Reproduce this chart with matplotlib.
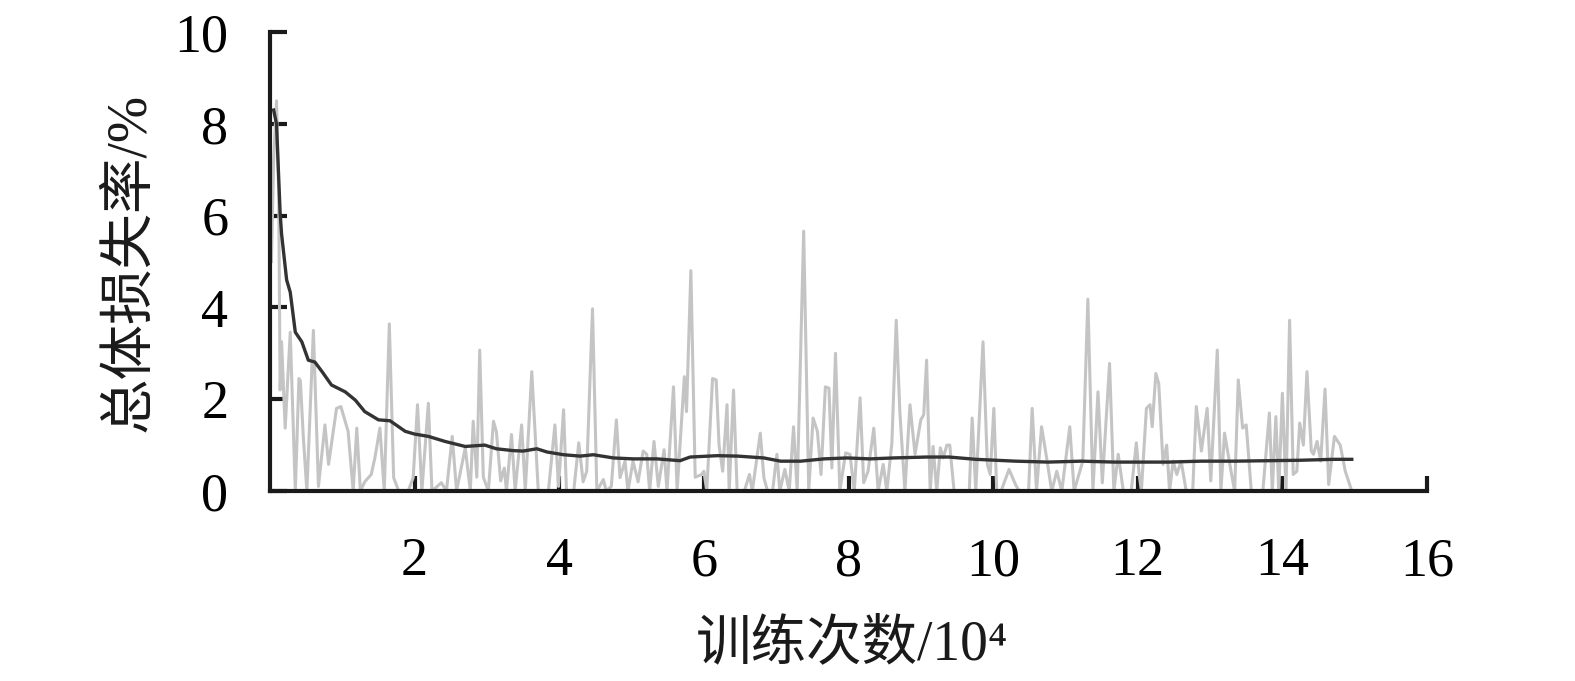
import matplotlib.pyplot as plt

# 原始损失 (灰线) - 折线顶点
raw_x = [0.02, 0.05, 0.09, 0.12, 0.14, 0.16, 0.21, 0.28, 0.35, 0.40, 0.42, 0.46, 0.51, 0.60, 0.67,
         0.76, 0.81, 0.92, 0.98, 1.08, 1.15, 1.20, 1.25, 1.31, 1.40, 1.45, 1.52, 1.58, 1.65, 1.71,
         1.78, 1.91, 1.98, 2.04, 2.10, 2.19, 2.24, 2.37, 2.44, 2.52, 2.58, 2.70, 2.77, 2.81, 2.86,
         2.90, 2.95, 3.02, 3.09, 3.13, 3.19, 3.24, 3.27, 3.34, 3.39, 3.48, 3.53, 3.62, 3.71, 3.85,
         3.94, 3.99, 4.06, 4.10, 4.20, 4.27, 4.33, 4.38, 4.46, 4.52, 4.61, 4.65, 4.72, 4.79, 4.84,
         4.91, 4.95, 5.02, 5.09, 5.16, 5.21, 5.25, 5.31, 5.37, 5.45, 5.49, 5.58, 5.63, 5.73, 5.76,
         5.82, 5.88, 5.97, 6.00, 6.04, 6.12, 6.17, 6.21, 6.26, 6.32, 6.35, 6.41, 6.46, 6.56, 6.63,
         6.67, 6.78, 6.83, 6.88, 6.95, 7.01, 7.05, 7.12, 7.18, 7.24, 7.29, 7.38, 7.45, 7.51, 7.57,
         7.62, 7.68, 7.73, 7.77, 7.82, 7.88, 7.96, 8.02, 8.08, 8.16, 8.21, 8.27, 8.35, 8.41, 8.48,
         8.53, 8.60, 8.66, 8.71, 8.78, 8.85, 8.92, 9.00, 9.04, 9.08, 9.13, 9.17, 9.22, 9.27, 9.31,
         9.36, 9.40, 9.46, 9.67, 9.71, 9.76, 9.86, 9.92, 9.96, 10.01, 10.05, 10.11, 10.22, 10.31, 10.36,
         10.49, 10.54, 10.60, 10.67, 10.74, 10.81, 10.88, 10.95, 11.06, 11.12, 11.20, 11.24, 11.31, 11.38, 11.45,
         11.51, 11.61, 11.67, 11.73, 11.80, 11.91, 11.98, 12.02, 12.05, 12.12, 12.17, 12.20, 12.25, 12.29, 12.35,
         12.40, 12.44, 12.49, 12.54, 12.60, 12.67, 12.76, 12.81, 12.88, 12.96, 13.01, 13.10, 13.15, 13.20, 13.29,
         13.34, 13.39, 13.45, 13.50, 13.57, 13.73, 13.82, 13.86, 13.91, 13.95, 14.00, 14.05, 14.10, 14.15, 14.20,
         14.24, 14.29, 14.34, 14.40, 14.43, 14.48, 14.53, 14.59, 14.64, 14.72, 14.80, 14.87, 14.96]
raw_y = [5.0, 7.2, 8.5, 6.5, 2.2, 3.25, 1.37, 3.46, 0.0, 2.45, 2.4, 1.2, 0.0, 3.5, 0.1,
         1.44, 0.58, 1.8, 1.84, 1.3, 0.0, 1.37, 0.0, 0.2, 0.36, 0.72, 1.37, 0.0, 3.64, 0.29,
         0.0, 0.0, 0.29, 1.88, 0.0, 1.91, 0.0, 0.18, 0.0, 1.19, 0.0, 0.94, 0.0, 1.52, 0.3,
         3.07, 0.3, 0.0, 1.52, 1.3, 0.22, 0.5, 0.0, 1.23, 0.0, 1.44, 0.0, 2.6, 0.0, 0.0,
         1.44, 0.1, 1.77, 0.0, 0.0, 1.05, 0.2, 0.43, 3.97, 0.0, 0.25, 0.0, 0.1, 1.55, 0.29,
         0.65, 0.0, 0.65, 0.2, 0.87, 0.8, 0.0, 1.08, 0.1, 0.9, 0.0, 2.27, 0.0, 2.49, 1.73,
         4.8, 0.3, 0.36, 0.43, 0.0, 2.45, 2.42, 1.0, 0.43, 1.88, 0.0, 2.2, 0.0, 0.0, 0.36,
         0.0, 1.26, 0.29, 0.0, 0.0, 0.8, 0.0, 0.47, 0.0, 1.4, 0.0, 5.66, 0.0, 1.59, 1.3,
         0.36, 2.27, 2.24, 0.5, 3.0, 0.0, 0.83, 0.8, 0.0, 2.03, 0.18, 0.43, 1.37, 0.0, 0.58,
         0.0, 1.05, 3.72, 1.73, 0.0, 1.88, 0.8, 1.55, 1.66, 2.85, 0.0, 0.97, 0.0, 0.94, 0.72,
         1.0, 1.0, 0.0, 0.0, 1.59, 0.0, 3.25, 0.58, 0.36, 1.8, 0.0, 0.0, 0.47, 0.14, 0.0,
         0.0, 1.8, 0.0, 1.4, 0.72, 0.0, 0.43, 0.0, 1.4, 0.0, 0.43, 0.65, 4.18, 0.0, 2.16,
         0.18, 2.78, 0.0, 0.8, 0.0, 0.0, 1.05, 0.36, 0.0, 1.8, 1.88, 1.4, 2.56, 2.34, 0.58,
         1.0, 0.0, 0.65, 0.36, 0.65, 0.0, 0.0, 1.84, 0.87, 1.8, 0.22, 3.07, 0.0, 1.26, 0.43,
         0.0, 2.42, 1.37, 1.44, 0.0, 0.0, 1.7, 0.0, 1.62, 0.0, 2.13, 0.0, 3.72, 0.36, 0.43,
         1.48, 1.0, 2.6, 0.87, 0.8, 1.08, 0.65, 2.22, 0.14, 1.19, 1.0, 0.43, 0.0]

# 平滑后的损失 (黑线)
smooth_x = [0.05, 0.09, 0.14, 0.16, 0.23, 0.28, 0.35, 0.44, 0.53, 0.62, 0.72, 0.85, 1.04, 1.18,
            1.31, 1.50, 1.66, 1.87, 2.00, 2.19, 2.42, 2.70, 2.97, 3.13, 3.36, 3.50, 3.69, 3.83,
            4.06, 4.29, 4.47, 4.75, 5.02, 5.35, 5.67, 5.81, 6.19, 6.47, 6.83, 7.06, 7.34, 7.66,
            7.98, 8.30, 8.62, 9.08, 9.39, 9.76, 10.31, 10.76, 11.22, 11.68, 12.09, 12.42, 12.88,
            13.34, 13.80, 14.25, 14.71, 14.96]
smooth_y = [8.3, 8.0, 6.06, 5.6, 4.6, 4.33, 3.46, 3.25, 2.85, 2.81, 2.6, 2.31, 2.16, 1.98,
            1.73, 1.55, 1.53, 1.3, 1.24, 1.19, 1.08, 0.97, 1.0, 0.92, 0.88, 0.87, 0.92, 0.85,
            0.79, 0.76, 0.79, 0.72, 0.7, 0.7, 0.66, 0.74, 0.77, 0.76, 0.72, 0.65, 0.65, 0.7,
            0.72, 0.7, 0.72, 0.74, 0.74, 0.69, 0.65, 0.63, 0.65, 0.63, 0.63, 0.63, 0.65,
            0.65, 0.66, 0.67, 0.69, 0.69]

x_ticks = [2, 4, 6, 8, 10, 12, 14, 16]
y_ticks = [0, 2, 4, 6, 8, 10]

fonts = ['Liberation Serif', 'Noto Sans CJK SC', 'DejaVu Serif']
plt.rcParams['font.family'] = fonts

fig = plt.figure(figsize=(15.75, 6.81), dpi=100)
ax = fig.add_axes([270 / 1575, 1 - 491 / 681, (1427 - 270) / 1575, (491 - 32) / 681])

ax.plot(raw_x, raw_y, color='#c4c4c4', lw=2.2, zorder=2)
ax.plot(smooth_x, smooth_y, color='#333333', lw=2.4, zorder=3)

ax.set_xlim(0, 16)
ax.set_ylim(0, 10)
ax.set_xticks(x_ticks)
ax.set_yticks(y_ticks)

for s in ['top', 'right']:
    ax.spines[s].set_visible(False)
for s in ['left', 'bottom']:
    ax.spines[s].set_linewidth(3)
    ax.spines[s].set_color('#1a1a1a')

ax.tick_params(axis='x', direction='in', length=11, width=3, pad=33, labelsize=39, color='#1a1a1a')
ax.tick_params(axis='y', direction='in', length=12, width=3, pad=30, labelsize=39, color='#1a1a1a')

fig.text(130 / 1575, 1 - 262 / 681, '总体损失率/%', rotation=90, ha='center', va='center',
         fontsize=40, family=fonts, color='#1a1a1a')
fig.text(852 / 1575, 1 - 645 / 681, '训练次数/10⁴', ha='center', va='center',
         fontsize=40, family=fonts, color='#1a1a1a')

fig.savefig('out.png', dpi=100)
